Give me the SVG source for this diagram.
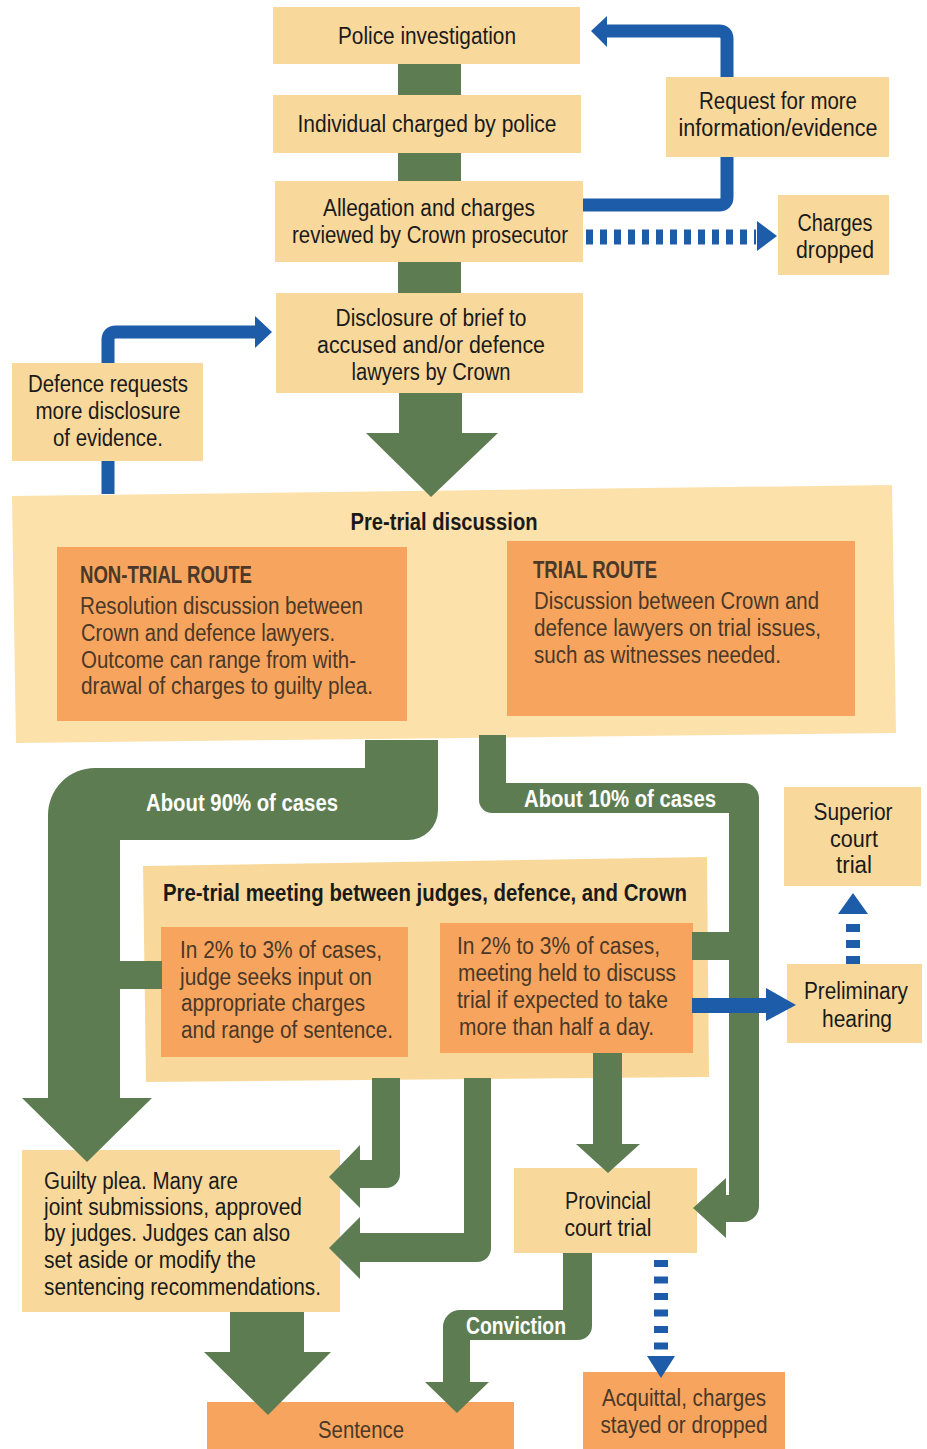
<svg xmlns="http://www.w3.org/2000/svg" width="927" height="1449" viewBox="0 0 927 1449">
<defs>
<style>
.tan{fill:#F9D99B}
.pale{fill:#FCE1AA}
.org{fill:#F7A55E}
.grn{fill:#5E7C52}
.blu{fill:#1C5CA8}
.bl{stroke:#1C5CA8;fill:none;stroke-width:13}
.dash{stroke:#1C5CA8;fill:none;stroke-width:15;stroke-dasharray:7 7}
.t{font-family:'Liberation Sans',Arial,sans-serif;font-size:23px;fill:#1a1a1a}
.c{text-anchor:middle}
.b{font-weight:bold}
.o{fill:#4A3828}
.w{fill:#ffffff;font-weight:bold}
</style>
</defs>
<rect width="927" height="1449" fill="#ffffff"/>

<g id="police-investigation"><rect class="tan" x="273" y="7" width="307" height="57"/><text class="t c" x="427" y="44" textLength="178" lengthAdjust="spacingAndGlyphs">Police investigation</text></g>
<g id="individual-charged"><rect class="tan" x="273" y="95" width="308" height="58"/><text class="t c" x="427" y="132" textLength="259" lengthAdjust="spacingAndGlyphs">Individual charged by police</text></g>
<g id="allegation-reviewed"><rect class="tan" x="275" y="181" width="308" height="81"/><text class="t c" x="429" y="216" textLength="212" lengthAdjust="spacingAndGlyphs">Allegation and charges</text><text class="t c" x="430" y="243" textLength="276" lengthAdjust="spacingAndGlyphs">reviewed by Crown prosecutor</text></g>
<g id="request-more-info"><rect class="tan" x="666" y="77" width="223" height="80"/><text class="t c" x="778" y="109" textLength="158" lengthAdjust="spacingAndGlyphs">Request for more</text><text class="t c" x="778" y="136" textLength="199" lengthAdjust="spacingAndGlyphs">information/evidence</text></g>
<g id="charges-dropped"><rect class="tan" x="778" y="195" width="111" height="80"/><text class="t c" x="835" y="231" textLength="75" lengthAdjust="spacingAndGlyphs">Charges</text><text class="t c" x="835" y="258" textLength="78" lengthAdjust="spacingAndGlyphs">dropped</text></g>
<g id="disclosure"><rect class="tan" x="276" y="293" width="307" height="100"/><text class="t c" x="431" y="326" textLength="191" lengthAdjust="spacingAndGlyphs">Disclosure of brief to</text><text class="t c" x="431" y="353" textLength="228" lengthAdjust="spacingAndGlyphs">accused and/or defence</text><text class="t c" x="431" y="380" textLength="159" lengthAdjust="spacingAndGlyphs">lawyers by Crown</text></g>
<g id="defence-requests"><rect class="tan" x="12" y="363" width="191" height="98"/><text class="t c" x="108" y="392" textLength="160" lengthAdjust="spacingAndGlyphs">Defence requests</text><text class="t c" x="108" y="419" textLength="145" lengthAdjust="spacingAndGlyphs">more disclosure</text><text class="t c" x="108" y="446" textLength="110" lengthAdjust="spacingAndGlyphs">of evidence.</text></g>

<g id="pre-trial-discussion">
<polygon class="pale" points="12,496 892,485 896,733 16,743"/>
<text class="t c b" x="444" y="530" textLength="187" lengthAdjust="spacingAndGlyphs">Pre-trial discussion</text>
<rect class="org" x="57" y="547" width="350" height="174"/>
<text class="t b o" x="80" y="583" textLength="172" lengthAdjust="spacingAndGlyphs">NON-TRIAL ROUTE</text>
<text class="t o" x="80" y="614" textLength="283" lengthAdjust="spacingAndGlyphs">Resolution discussion between</text>
<text class="t o" x="81" y="641" textLength="254" lengthAdjust="spacingAndGlyphs">Crown and defence lawyers.</text>
<text class="t o" x="81" y="668" textLength="275" lengthAdjust="spacingAndGlyphs">Outcome can range from with-</text>
<text class="t o" x="81" y="694" textLength="292" lengthAdjust="spacingAndGlyphs">drawal of charges to guilty plea.</text>
<rect class="org" x="507" y="541" width="348" height="175"/>
<text class="t b o" x="533" y="578" textLength="124" lengthAdjust="spacingAndGlyphs">TRIAL ROUTE</text>
<text class="t o" x="534" y="609" textLength="285" lengthAdjust="spacingAndGlyphs">Discussion between Crown and</text>
<text class="t o" x="534" y="636" textLength="287" lengthAdjust="spacingAndGlyphs">defence lawyers on trial issues,</text>
<text class="t o" x="534" y="663" textLength="247" lengthAdjust="spacingAndGlyphs">such as witnesses needed.</text>
</g>

<g id="pre-trial-meeting">
<polygon class="tan" points="143,866 707,857 709,1077 146,1082"/>
<text class="t b" x="163" y="901" textLength="524" lengthAdjust="spacingAndGlyphs">Pre-trial meeting between judges, defence, and Crown</text>
<rect class="org" x="161" y="927" width="247" height="130"/>
<text class="t o" x="180" y="958" textLength="202" lengthAdjust="spacingAndGlyphs">In 2% to 3% of cases,</text>
<text class="t o" x="180" y="985" textLength="192" lengthAdjust="spacingAndGlyphs">judge seeks input on</text>
<text class="t o" x="181" y="1011" textLength="184" lengthAdjust="spacingAndGlyphs">appropriate charges</text>
<text class="t o" x="181" y="1038" textLength="212" lengthAdjust="spacingAndGlyphs">and range of sentence.</text>
<rect class="org" x="440" y="923" width="253" height="130"/>
<text class="t o" x="457" y="954" textLength="203" lengthAdjust="spacingAndGlyphs">In 2% to 3% of cases,</text>
<text class="t o" x="458" y="981" textLength="218" lengthAdjust="spacingAndGlyphs">meeting held to discuss</text>
<text class="t o" x="457" y="1008" textLength="211" lengthAdjust="spacingAndGlyphs">trial if expected to take</text>
<text class="t o" x="459" y="1035" textLength="195" lengthAdjust="spacingAndGlyphs">more than half a day.</text>
</g>

<g id="superior-court"><rect class="tan" x="784" y="787" width="137" height="99"/><text class="t c" x="853" y="820" textLength="79" lengthAdjust="spacingAndGlyphs">Superior</text><text class="t c" x="854" y="847" textLength="48" lengthAdjust="spacingAndGlyphs">court</text><text class="t c" x="854" y="873" textLength="36" lengthAdjust="spacingAndGlyphs">trial</text></g>
<g id="preliminary-hearing"><rect class="tan" x="787" y="964" width="135" height="79"/><text class="t c" x="856" y="999" textLength="104" lengthAdjust="spacingAndGlyphs">Preliminary</text><text class="t c" x="857" y="1027" textLength="70" lengthAdjust="spacingAndGlyphs">hearing</text></g>
<g id="guilty-plea"><rect class="tan" x="22" y="1150" width="318" height="162"/>
<text class="t" x="44" y="1189" textLength="194" lengthAdjust="spacingAndGlyphs">Guilty plea. Many are</text>
<text class="t" x="44" y="1215" textLength="258" lengthAdjust="spacingAndGlyphs">joint submissions, approved</text>
<text class="t" x="44" y="1241" textLength="246" lengthAdjust="spacingAndGlyphs">by judges. Judges can also</text>
<text class="t" x="44" y="1268" textLength="212" lengthAdjust="spacingAndGlyphs">set aside or modify the</text>
<text class="t" x="44" y="1295" textLength="277" lengthAdjust="spacingAndGlyphs">sentencing recommendations.</text></g>
<g id="provincial-court"><rect class="tan" x="514" y="1168" width="183" height="85"/><text class="t c" x="608" y="1209" textLength="86" lengthAdjust="spacingAndGlyphs">Provincial</text><text class="t c" x="608" y="1236" textLength="87" lengthAdjust="spacingAndGlyphs">court trial</text></g>
<g id="sentence"><rect class="org" x="207" y="1402" width="307" height="47"/><text class="t c o" x="361" y="1438" textLength="86" lengthAdjust="spacingAndGlyphs">Sentence</text></g>
<g id="acquittal"><rect class="org" x="583" y="1372" width="202" height="77"/><text class="t c o" x="684" y="1406" textLength="164" lengthAdjust="spacingAndGlyphs">Acquittal, charges</text><text class="t c o" x="684" y="1433" textLength="167" lengthAdjust="spacingAndGlyphs">stayed or dropped</text></g>

<g id="connectors">
<rect class="grn" x="398" y="64" width="63" height="31"/>
<rect class="grn" x="398" y="153" width="63" height="28"/>
<rect class="grn" x="398" y="262" width="63" height="31"/>
<path class="grn" d="M399,393 H462 V433 H498 L431,497 L366,433 H399 Z"/>
<path class="bl" d="M583,205 H719 Q727,205 727,197 V157"/>
<path class="bl" d="M727,77 V39 Q727,31 719,31 H604"/>
<polygon class="blu" points="607,16 591,31 607,47"/>
<line class="dash" x1="586" y1="237" x2="756" y2="237"/>
<polygon class="blu" points="757,221 777,236 757,251"/>
<path class="bl" d="M108,363 V340 Q108,332 116,332 H256"/>
<polygon class="blu" points="255,316 272,332 255,348"/>
<line class="bl" x1="108" y1="461" x2="108" y2="494"/>
<path class="grn" d="M365,740 V768 H95 A47,47 0 0 0 48,815 V1098 H22 L87,1162 L152,1098 H120 V840 H408 A30,30 0 0 0 438,810 V740 Z"/>
<text class="t w" x="146" y="811" font-size="22" textLength="192" lengthAdjust="spacingAndGlyphs">About 90% of cases</text>
<path class="grn" d="M479,735 V800 A13,13 0 0 0 492,813 H729 V1195 H726 V1178 L693,1208 L726,1238 V1222 H743 A16,16 0 0 0 759,1206 V798 A15,15 0 0 0 744,783 H506 V735 Z"/>
<text class="t w" x="524" y="807" font-size="22" textLength="192" lengthAdjust="spacingAndGlyphs">About 10% of cases</text>
<rect class="grn" x="119" y="961" width="43" height="28"/>
<rect class="grn" x="692" y="932" width="38" height="28"/>
<rect class="blu" x="692" y="998" width="76" height="15"/>
<polygon class="blu" points="766,988 796,1005 766,1021"/>
<line x1="853" y1="964" x2="853" y2="918" stroke="#1C5CA8" stroke-width="14" stroke-dasharray="8 8"/>
<polygon class="blu" points="838,914 853,893 868,914"/>
<path class="grn" d="M372,1078 V1160 H360 V1145 L329,1177 L360,1208 V1188 H386 A14,14 0 0 0 400,1174 V1078 Z"/>
<path class="grn" d="M464,1078 V1233 H360 V1217 L329,1248 L360,1279 V1262 H477 A14,14 0 0 0 491,1248 V1078 Z"/>
<path class="grn" d="M593,1053 H622 V1144 H640 L608,1173 L576,1144 H593 Z"/>
<path class="grn" d="M230,1312 H304 V1352 H331 L268,1415 L204,1352 H230 Z"/>
<path class="grn" d="M563,1253 V1310 H460 A17,17 0 0 0 443,1327 V1382 H425 L457,1413 L489,1382 H470 V1340 H578 A14,14 0 0 0 592,1326 V1253 Z"/>
<text class="t w" x="466" y="1334" font-size="22" textLength="100" lengthAdjust="spacingAndGlyphs">Conviction</text>
<line x1="661" y1="1260" x2="661" y2="1352" stroke="#1C5CA8" stroke-width="14" stroke-dasharray="7 9.5"/>
<polygon class="blu" points="647,1356 675,1356 661,1378"/>
</g>
</svg>
